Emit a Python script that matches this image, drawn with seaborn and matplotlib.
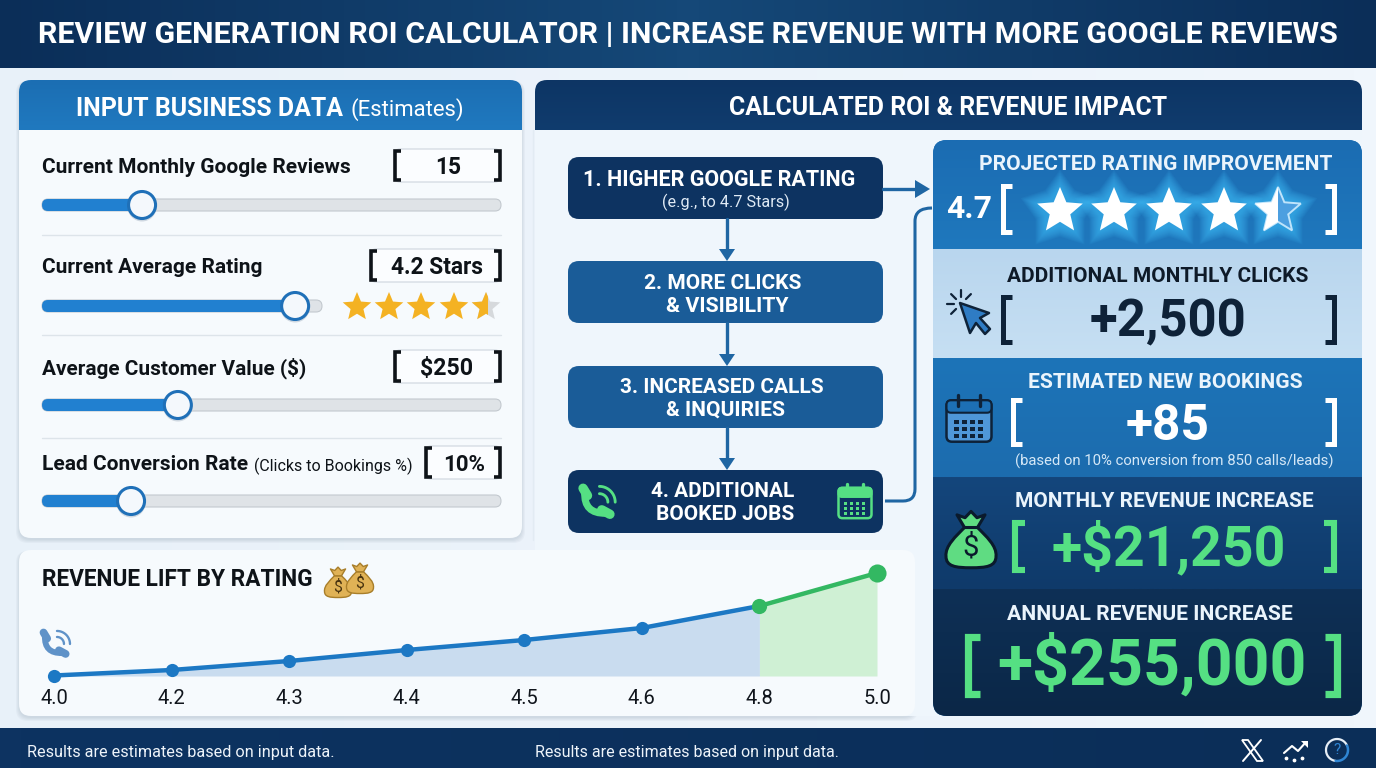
import numpy as np
import pandas as pd
import seaborn as sns
import matplotlib.pyplot as plt
from matplotlib.patches import FancyBboxPatch, Polygon, Circle, PathPatch, Rectangle
from matplotlib.path import Path
from matplotlib.colors import LinearSegmentedColormap

# data
ratings = ["4.0", "4.2", "4.3", "4.4", "4.5", "4.6", "4.8", "5.0"]
revenue_lift = [0.5, 6, 15, 26, 36, 48, 70, 103]
split_at = 6  # green part starts at 4.8

input_labels = ["Current Monthly Google Reviews", "Current Average Rating", "Average Customer Value ($)", "Lead Conversion Rate"]
input_values = ["15", "4.2 Stars", "$250", "10%"]
slider_fill = [0.218, 0.904, 0.296, 0.194]
shown_stars = 4.5
projected_stars = 4.5

sns.set_theme(style="white")
plt.rcParams['font.family'] = ['Roboto', 'DejaVu Sans']

NAVY = "#0d3361"
BLUE = "#1d70b5"
MID = "#1a5c98"
GREEN = "#55e083"
DARK = "#0c1c2e"

fig = plt.figure(figsize=(13.76, 7.68), dpi=100)
ax = fig.add_axes([0, 0, 1, 1])
ax.set_xlim(0, 1376)
ax.set_ylim(768, 0)
ax.autoscale(False)
ax.axis("off")
rend = fig.canvas.get_renderer()


def txt(x, y, s, w=None, size=14, color="#10151c", weight="bold", ha="center", z=10):
    t = ax.text(x, y, s, fontsize=size, color=color, fontweight=weight, ha=ha, va="center", zorder=z)
    if w:
        t.set_fontsize(size * w / t.get_window_extent(rend).width)
    # va=center sits a bit high for caps, push it down with the size
    t.set_y(y + 0.5 + 0.07 * t.get_fontsize())
    return t


def box(x0, y0, x1, y1, r=10, fc="white", ec="none", lw=0, z=2, alpha=1):
    p = FancyBboxPatch((x0 + r, y0 + r), x1 - x0 - 2 * r, y1 - y0 - 2 * r, boxstyle=f"round,pad={r},rounding_size={r}",
                       fc=fc, ec=ec, lw=lw, zorder=z, alpha=alpha)
    ax.add_patch(p)
    return p


def grad(x0, y0, x1, y1, c0, c1, clip=None, vert=True, z=2):
    cm = LinearSegmentedColormap.from_list("g", [c0, c1])
    arr = np.linspace(0, 1, 64)
    arr = arr[:, None] if vert else arr[None, :]
    im = ax.imshow(arr, extent=(x0, x1, y1, y0), cmap=cm, aspect="auto", zorder=z, origin="upper")
    if clip is not None:
        im.set_clip_path(clip)
    return im


def shadow(x0, y0, x1, y1, r=12):
    for i in range(1, 5):
        box(x0 - i + 1, y0 + 1, x1 + i - 1, y1 + i + 1, r=r, fc="#4a6078", alpha=0.045, z=1.5)


def star_pts(cx, cy, r, inner=0.45):
    ang = np.arange(10) * np.pi / 5 - np.pi / 2
    rad = np.where(np.arange(10) % 2 == 0, r, r * inner)
    return np.c_[cx + rad * np.cos(ang), cy + rad * np.sin(ang)]


def bracket(x, y0, y1, side, color, lw=3.0, tick=7):
    d = tick if side == "l" else -tick
    ax.plot([x + d, x, x, x + d], [y0, y0, y1, y1], color=color, lw=lw, solid_joinstyle="miter",
            solid_capstyle="butt", zorder=10)


def down_arrow(x, y0, y1, color="#1f66a3"):
    ax.plot([x, x], [y0, y1 - 8], color=color, lw=2.4, zorder=4)
    ax.add_patch(Polygon([(x - 8, y1 - 12), (x + 8, y1 - 12), (x, y1)], fc=color, lw=0, zorder=4))


def phone(cx, cy, s, color, alpha=1):
    verts = [(cx - 0.72 * s, cy - 0.5 * s), (cx - 0.78 * s, cy + 0.75 * s), (cx + 0.5 * s, cy + 0.72 * s)]
    ax.add_patch(PathPatch(Path(verts, [Path.MOVETO, Path.CURVE3, Path.CURVE3]), fc="none", ec=color,
                           lw=s * 0.30, capstyle="butt", zorder=6, alpha=alpha))
    ax.plot([cx - 0.82 * s, cx - 0.56 * s], [cy - 0.75 * s, cy - 0.32 * s], color=color, lw=s * 0.40,
            solid_capstyle="round", zorder=6, alpha=alpha)
    ax.plot([cx + 0.28 * s, cx + 0.76 * s], [cy + 0.52 * s, cy + 0.78 * s], color=color, lw=s * 0.40,
            solid_capstyle="round", zorder=6, alpha=alpha)
    for rad in (0.5, 0.93):
        a = np.linspace(-1.57, 0, 20)
        ax.plot(cx + 0.14 * s + rad * s * np.cos(a), cy + 0.07 * s + rad * s * np.sin(a), color=color,
                lw=s * 0.12, zorder=6, alpha=alpha)


def calendar(cx, cy, w, edge, fill, dot, head=None):
    h = w * 0.92
    box(cx - w / 2, cy - h / 2, cx + w / 2, cy + h / 2, r=w * 0.12, fc=fill, ec=edge, lw=1.8, z=6)
    if head:
        box(cx - w / 2, cy - h / 2, cx + w / 2, cy - h * 0.2, r=w * 0.1, fc=head, ec=edge, lw=1.5, z=6)
    else:
        ax.plot([cx - w / 2, cx + w / 2], [cy - h * 0.2, cy - h * 0.2], color=edge, lw=1.8, zorder=7)
    for dx in (-0.24, 0.24):
        ax.plot([cx + dx * w] * 2, [cy - h * 0.62, cy - h * 0.36], color=edge, lw=2.4, zorder=8,
                solid_capstyle="round")
    for j, row in enumerate((0.0, 0.17, 0.34)):
        for i in range(4):
            ax.add_patch(Rectangle((cx + (-0.33 + i * 0.18) * w, cy + row * h - 0.03 * w), 0.1 * w, 0.09 * w,
                                   fc=dot, lw=0, zorder=8))


def bag(cx, cy, s, fill, edge, mark, lw=2.2):
    sy = 1.15 * s
    body = [(-0.13, -0.2), (-0.3, -0.05), (-0.52, 0.12), (-0.5, 0.3), (-0.5, 0.48), (-0.3, 0.5), (0, 0.5),
            (0.3, 0.5), (0.5, 0.48), (0.5, 0.3), (0.52, 0.12), (0.3, -0.05), (0.13, -0.2), (-0.13, -0.2)]
    codes = [Path.MOVETO] + [Path.CURVE4] * 12 + [Path.CLOSEPOLY]
    verts = [(cx + px * s, cy + py * sy) for px, py in body]
    ax.add_patch(PathPatch(Path(verts, codes), fc=fill, ec=edge, lw=lw, zorder=6))
    frill = [(-0.13, -0.2), (-0.28, -0.42), (-0.12, -0.37), (0, -0.48), (0.12, -0.37), (0.28, -0.42), (0.13, -0.2)]
    ax.add_patch(Polygon([(cx + px * s, cy + py * sy) for px, py in frill], fc=fill, ec=edge, lw=lw,
                         joinstyle="round", zorder=6))
    txt(cx, cy + 0.12 * sy, "$", size=s * 0.42, color=mark, z=8, weight="normal")


# background and bars
grad(0, 0, 1376, 768, "#e8f1f9", "#f0f6fc", vert=False, z=0)
grad(0, 0, 688, 68, "#0b2e58", "#154878", vert=False, z=1)
grad(688, 0, 1376, 68, "#154878", "#0b2e58", vert=False, z=1)
grad(0, 728, 1376, 768, NAVY, "#0b2e58", vert=False, z=1)
txt(688, 33, "REVIEW GENERATION ROI CALCULATOR | INCREASE REVENUE WITH MORE GOOGLE REVIEWS", w=1304, color="white")

# left panel
shadow(19, 80, 522, 538)
left = box(19, 80, 522, 538, r=12, fc="#f6fafd", z=2)
grad(19, 80, 522, 130, "#1b6eb3", "#2079bf", clip=left, z=3)
txt(76, 107, "INPUT BUSINESS DATA", w=268, color="white", ha="left")
txt(351, 108, "(Estimates)", w=114, color="white", weight="normal", ha="left")

row_y = [166, 266, 367, 463]
slider_y = [205, 306, 405, 501]
slider_end = [501, 322, 501, 501]
box_left = [395, 371, 395, 426]
label_w = [309, 220, 265, 206]
value_w = [26, 93, 53, 42]
value_x = [448, 437, 447, 464]
for i in range(4):
    txt(42, row_y[i], input_labels[i], w=label_w[i], color="#0e1318", ha="left")
    box(box_left[i], row_y[i] - 17, 500, row_y[i] + 16, r=5, fc="#fbfdff", ec="#d6dde4", lw=1, z=3)
    bracket(box_left[i], row_y[i] - 15, row_y[i] + 14, "l", "#0e1318", lw=2.6, tick=6)
    bracket(500, row_y[i] - 15, row_y[i] + 14, "r", "#0e1318", lw=2.6, tick=6)
    txt(value_x[i], row_y[i], input_values[i], w=value_w[i], color="#0e1318")
    y = slider_y[i]
    knob = 42 + slider_fill[i] * (slider_end[i] - 42)
    box(42, y - 6, slider_end[i], y + 6, r=6, fc="#dfe3e7", ec="#c3c9cf", lw=0.8, z=3)
    box(42, y - 6, knob, y + 6, r=6, fc="#2180d0", z=4)
    ax.add_patch(Circle((knob, y + 2), 14.5, fc="#5d7590", alpha=0.25, lw=0, zorder=4.5))
    ax.add_patch(Circle((knob, y), 13.5, fc="#f4f8fc", ec="#1f70b8", lw=2.2, zorder=5))
    if i < 3:
        ax.plot([42, 501], [row_y[i] + 69 + (i == 2) * 2] * 2, color="#dde4ea", lw=1, zorder=3)
txt(254, 465, "(Clicks to Bookings %)", w=159, color="#0e1318", weight="normal", ha="left")

# rating stars by the slider
rate_x = [357, 389, 421, 454, 486]
for n, sx in enumerate(rate_x):
    frac = min(max(shown_stars - n, 0), 1)
    if frac < 1:
        ax.add_patch(Polygon(star_pts(sx, 307, 15), fc="#d6d9dc", lw=0, zorder=5))
    st = Polygon(star_pts(sx, 307, 15), fc="#f4b223", lw=0, zorder=6)
    ax.add_patch(st)
    if frac < 1:
        st.set_clip_path(Rectangle((sx - 15, 290), 30 * frac + 2, 34, transform=ax.transData))

# big right panel, lower part runs under the chart card
right = box(535, 80, 1362, 716, r=12, fc="#eff6fc", z=2)
ax.plot([533, 533], [130, 540], color="#e2ebf3", lw=1, zorder=2)
grad(535, 80, 1362, 130, "#0d3564", "#103c6e", clip=right, z=3)
txt(948, 106, "CALCULATED ROI & REVENUE IMPACT", w=440, color="white")

# flow boxes
flow = [(157, 219, NAVY), (261, 323, MID), (366, 428, MID), (470, 533, NAVY)]
for y0, y1, c in flow:
    box(568, y0, 883, y1, r=11, fc=c, z=3)
txt(719, 178, "1. HIGHER GOOGLE RATING", w=274, color="white")
txt(726, 201, "(e.g., to 4.7 Stars)", w=129, color="#dfeaf5", weight="normal")
txt(723, 282, "2. MORE CLICKS", w=158, color="white")
txt(727, 305, "& VISIBILITY", w=123, color="white")
txt(722, 386, "3. INCREASED CALLS", w=205, color="white")
txt(725, 409, "& INQUIRIES", w=119, color="white")
txt(723, 490, "4. ADDITIONAL", w=144, color="white")
txt(725, 513, "BOOKED JOBS", w=139, color="white")
phone(597, 501, 17, GREEN)
calendar(855, 503, 33, GREEN, "none", GREEN, head=GREEN)
for y0, y1 in [(219, 261), (323, 366), (428, 470)]:
    down_arrow(727, y0, y1)
ax.plot([883, 918], [189, 189], color="#1f66a3", lw=2.4, zorder=4)
ax.add_patch(Polygon([(915, 180), (915, 198), (930, 189)], fc="#1f66a3", lw=0, zorder=4))
conn = [(885, 501), (903, 501), (915, 501), (915, 489), (915, 221), (915, 208), (932, 208)]
ax.add_patch(PathPatch(Path(conn, [Path.MOVETO, Path.LINETO, Path.CURVE3, Path.CURVE3, Path.LINETO, Path.CURVE3, Path.CURVE3]),
                       fc="none", ec="#1f66a3", lw=2.2, zorder=2.5))

# result column
col = box(933, 140, 1362, 716, r=14, fc=BLUE, z=3)
bands = [(140, 249, "#1b6cb2", "#1f78bd"), (249, 358, "#b9d6ee", "#c6dff3"), (358, 477, "#1d74b8", "#1c6cae"),
         (477, 589, "#14467c", "#0f3a6a"), (589, 716, "#0e3056", "#0b2747")]
for y0, y1, c0, c1 in bands:
    grad(933, y0, 1362, y1, c0, c1, clip=col, z=3.5)

txt(1156, 163, "PROJECTED RATING IMPROVEMENT", w=354, color="#eaf4fc")
txt(969, 207, "4.7", w=46, color="white")
bracket(1003, 186, 232, "l", "white", lw=3.6, tick=9)
bracket(1334, 186, 232, "r", "white", lw=3.6, tick=9)
proj_x = [1060, 1114, 1169, 1224, 1278]
for n, sx in enumerate(proj_x):
    for rr in np.arange(25, 42, 1.5):
        ax.add_patch(Polygon(star_pts(sx, 211, rr, 0.62), fc="#45c4ff", alpha=0.07, zorder=5, lw=0))
    frac = min(max(projected_stars - n, 0), 1)
    if frac < 1:
        ax.add_patch(Polygon(star_pts(sx, 211, 24), fc="#4c9fe0", ec="#bfe4fb", lw=1.4, zorder=6))
    st = Polygon(star_pts(sx, 211, 24), fc="white", lw=0, zorder=7)
    ax.add_patch(st)
    if frac < 1:
        st.set_clip_path(Rectangle((sx - 24, 180), 48 * frac, 60, transform=ax.transData))

txt(1158, 275, "ADDITIONAL MONTHLY CLICKS", w=302, color="#0e1a28")
txt(1168, 319, "+2,500", w=157, color="#0e2238")
bracket(1003, 297, 342, "l", "#0e2238", lw=3.6, tick=9)
bracket(1334, 297, 342, "r", "#0e2238", lw=3.6, tick=9)
for a in np.radians([-135, -90, -45, 180, 135]):
    ax.plot([961 + 7 * np.cos(a), 961 + 14 * np.cos(a)], [304 + 7 * np.sin(a), 304 + 14 * np.sin(a)],
            color="#0e2238", lw=1.6, zorder=6)
ax.add_patch(Polygon([(960, 303), (970, 333), (976, 323), (985, 334), (990, 329), (980, 318), (989, 313)],
                     fc="#2f7cc4", ec="#0e2238", lw=1.8, joinstyle="round", zorder=7))

txt(1165, 381, "ESTIMATED NEW BOOKINGS", w=275, color="#eaf4fc")
txt(1168, 423, "+85", w=84, color="white")
bracket(1013, 400, 444, "l", "white", lw=3.6, tick=9)
bracket(1334, 400, 444, "r", "white", lw=3.6, tick=9)
txt(1174, 460, "(based on 10% conversion from 850 calls/leads)", w=322, color="#d5e8f7", weight="normal")
calendar(969, 421, 45, "#0e2238", "#4f97d8", "#0e2238", head="#1d70b5")

txt(1164, 500, "MONTHLY REVENUE INCREASE", w=300, color="#eaf4fc")
txt(1169, 545, "+$21,250", w=234, color=GREEN)
bracket(1015, 523, 570, "l", GREEN, lw=4.4, tick=10)
bracket(1334, 523, 570, "r", GREEN, lw=4.4, tick=10)
bag(971, 539, 50, "#5fdc82", "#0a1a2c", "#0a1a2c")

txt(1150, 613, "ANNUAL REVENUE INCREASE", w=286, color="#eaf4fc")
txt(1152, 662, "+$255,000", w=309, color=GREEN)
bracket(968, 637, 694, "l", GREEN, lw=5.2, tick=12)
bracket(1337, 637, 694, "r", GREEN, lw=5.2, tick=12)

# revenue lift chart
shadow(19, 550, 915, 716)
box(19, 550, 915, 716, r=12, fc="#f6fafd", z=2)
txt(42, 578, "REVENUE LIFT BY RATING", w=271, color="#0e1318", ha="left")
bag(338, 582, 27, "#e0b256", "#a87e2a", "#4a3410", lw=1)
bag(360, 578, 27, "#e0b256", "#a87e2a", "#4a3410", lw=1)
phone(55, 643, 14, "#5f92c8")

chart = fig.add_axes([54 / 1376, 1 - 676 / 768, (877 - 54) / 1376, (676 - 573) / 768], facecolor="none", zorder=5)
df = pd.DataFrame({"pos": range(len(ratings)), "lift": revenue_lift})
blue_part = df.iloc[:split_at + 1]
green_part = df.iloc[split_at:]
chart.fill_between(blue_part["pos"], 0, blue_part["lift"], color="#c9dcef", lw=0)
chart.fill_between(green_part["pos"], 0, green_part["lift"], color="#cff0d4", lw=0)
sns.lineplot(data=blue_part, x="pos", y="lift", ax=chart, color="#1c78c4", lw=3.2, marker="o", markersize=9.5,
             markeredgewidth=0, clip_on=False, errorbar=None)
sns.lineplot(data=green_part, x="pos", y="lift", ax=chart, color="#33b862", lw=3.2, errorbar=None)
sns.scatterplot(data=green_part.iloc[[0]], x="pos", y="lift", ax=chart, color="#33b862", s=120, linewidth=0,
                clip_on=False, zorder=4)
sns.scatterplot(data=green_part.iloc[[1]], x="pos", y="lift", ax=chart, color="#33b862", s=170, linewidth=0,
                clip_on=False, zorder=4)
chart.axhline(0, color="#dde3e8", lw=1.2, zorder=0)
chart.set_xlim(0, len(ratings) - 1)
chart.set_ylim(0, 103)
chart.set_xticks(list(df["pos"]), ratings)
chart.set_yticks([])
chart.set_xlabel("")
chart.set_ylabel("")
chart.tick_params(axis="x", length=0, pad=9, labelsize=14.5, labelcolor="#10151c")
sns.despine(ax=chart, left=True, bottom=True)

# footer
txt(27, 751, "Results are estimates based on input data.", w=310, color="#eef4fa", weight="normal", ha="left")
txt(535, 751, "Results are estimates based on input data.", w=306, color="#eef4fa", weight="normal", ha="left")
ax.add_patch(Polygon([(1242, 740), (1248, 740), (1263, 761), (1257, 761)], fc="none", ec="white", lw=1.3, zorder=6))
ax.plot([1261, 1243], [740, 761], color="white", lw=1.4, zorder=6)
ax.plot([1284, 1292, 1298, 1306], [753, 746, 751, 742], color="white", lw=1.5, zorder=6)
ax.add_patch(Polygon([(1301, 741), (1308, 741), (1308, 748)], fc="white", lw=0, zorder=6))
ax.scatter([1286, 1294, 1302], [758, 760, 758], s=3, color="white", zorder=6)
a = np.linspace(0, 2 * np.pi, 60)
ax.plot(1337 + 11 * np.cos(a[:40] + 1.7), 750 + 11 * np.sin(a[:40] + 1.7), color="#e6eef6", lw=1.6, zorder=6)
ax.plot(1337 + 11 * np.cos(a[39:] + 1.7), 750 + 11 * np.sin(a[39:] + 1.7), color="#2f86d4", lw=1.8, zorder=6)
txt(1337, 749, "?", size=11, color="#2f86d4", weight="normal")

fig.savefig("out.png", dpi=100)
